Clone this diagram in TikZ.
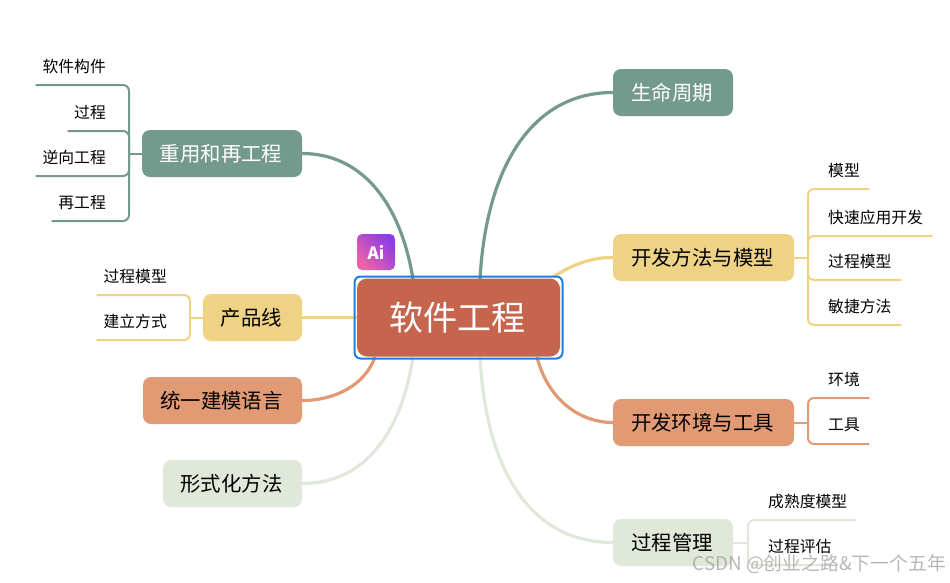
\documentclass[tikz,border=0pt]{standalone}
\usepackage{fontspec}
\setmainfont{Noto Sans CJK SC}
\usetikzlibrary{backgrounds}
\definecolor{cgreen}{HTML}{739A8C}
\definecolor{cyellow}{HTML}{EFD385}
\definecolor{corange}{HTML}{E29A75}
\definecolor{clight}{HTML}{E0E8DA}
\definecolor{ccenter}{HTML}{C6654E}
\definecolor{cblue}{HTML}{1A7FE5}
\definecolor{aione}{HTML}{EC62A6}
\definecolor{aitwo}{HTML}{8B3BEA}
\newcommand{\leafL}[2]{\makebox[#1pt][r]{#2\kern23pt}}
\newcommand{\leafR}[2]{\makebox[#1pt][l]{\kern20pt #2}}
\tikzset{
  x=1pt,y=-1pt,
  topic/.style={rounded corners=8pt,inner sep=0pt,minimum height=47pt,font=\fontsize{20.4}{24}\selectfont,text=black,execute at end node=\kern2pt},
  gtopic/.style={topic,fill=cgreen,text=white},
  ytopic/.style={topic,fill=cyellow},
  otopic/.style={topic,fill=corange},
  ltopic/.style={topic,fill=clight},
  leaf/.style={inner sep=0pt,minimum height=37pt,font=\fontsize{15.8}{18}\selectfont,text=black},
  leafl/.style={leaf,anchor=south east},
  leafr/.style={leaf,anchor=south west},
  main/.style={line width=3.2pt},
  bracket/.style={line width=2pt,rounded corners=6pt},
}
\begin{document}
\begin{tikzpicture}
\useasboundingbox (0,0) rectangle (950,582);
% centre
\node[rounded corners=6pt,draw=cblue,line width=2pt,minimum width=208pt,minimum height=82pt,inner sep=0pt] (frame) at (458.5,317.5) {};
\node[fill=ccenter,rounded corners=10pt,text=white,minimum width=203pt,minimum height=78pt,inner sep=0pt,font=\fontsize{34}{38}\selectfont,execute at end node=\kern3pt] (c) at (458.5,317.5) {软件工程};
\node[rounded corners=5pt,left color=aione,right color=aitwo,shading angle=135,minimum width=38pt,minimum height=36pt,inner sep=0pt,text=white,font=\bfseries\fontsize{17}{18}\selectfont] (ai) at (376,252) {Ai};
% topics
\node[gtopic,minimum width=120pt] (life) at (673,92.5) {生命周期};
\node[ytopic,minimum width=181pt] (dev) at (703.5,257.5) {开发方法与模型};
\node[otopic,minimum width=181pt] (env) at (703.5,422.5) {开发环境与工具};
\node[ltopic,minimum width=120pt] (proc) at (673,542.5) {过程管理};
\node[gtopic,minimum width=160pt] (reuse) at (222,153.5) {重用和再工程};
\node[ytopic,minimum width=99pt] (pl) at (252.5,317.5) {产品线};
\node[otopic,minimum width=159pt] (uml) at (222.5,400.5) {统一建模语言};
\node[ltopic,minimum width=139pt] (fm) at (232.5,483.5) {形式化方法};
% leaves
\node[leafl] (a1) at (129,85) {\leafL{93}{软件构件}};
\node[leafl] (a2) at (129,131) {\leafL{61}{过程}};
\node[leafl] (a3) at (129,176) {\leafL{93}{逆向工程}};
\node[leafl] (a4) at (129,221) {\leafL{77}{再工程}};
\node[leafl] (b1) at (190,295) {\leafL{93}{过程模型}};
\node[leafl] (b2) at (190,340) {\leafL{93}{建立方式}};
\node[leafr] (d1) at (808,189) {\leafR{61}{模型}};
\node[leafr] (d2) at (808,236) {\leafR{124}{快速应用开发}};
\node[leafr] (d3) at (808,280) {\leafR{93}{过程模型}};
\node[leafr] (d4) at (808,325) {\leafR{93}{敏捷方法}};
\node[leafr] (e1) at (808,398) {\leafR{61}{环境}};
\node[leafr] (e2) at (808,444) {\leafR{61}{工具}};
\node[leafr] (f1) at (748,520) {\leafR{108}{成熟度模型}};
\node[leafr] (f2) at (748,565) {\leafR{82}{过程评估}};
% connector ends
\coordinate (cTL) at (413,279);
\coordinate (cTR) at (480,279);
\coordinate (cTE) at (553,277);
\coordinate (cBE) at (537,357);
\coordinate (cBR) at (480,357);
\coordinate (cBL) at (413,357);
\coordinate (cBW) at (375,357);
\coordinate (sa) at (129,153.5);
\coordinate (sb) at (190,317.5);
\coordinate (sd) at (808,257.5);
\coordinate (se) at (808,422.5);
\coordinate (sf) at (748,542.5);
\begin{scope}[on background layer]
\draw[main,cgreen] (cTR) .. controls (486,170) and (530,92.5) .. (life.west);
\draw[main,cgreen] (cTL) .. controls (400,200) and (360,153.5) .. (reuse.east);
\draw[main,cyellow] (cTE) .. controls (572,265) and (590,257.5) .. (dev.west);
\draw[main,corange] (cBE) .. controls (548,400) and (580,422.5) .. (env.west);
\draw[main,clight] (cBR) .. controls (486,470) and (530,542.5) .. (proc.west);
\draw[main,clight] (cBL) .. controls (400,440) and (360,483.5) .. (fm.east);
\draw[main,corange] (cBW) .. controls (365,385) and (335,400.5) .. (uml.east);
\draw[main,cyellow] (c.west) -- (pl.east);
\end{scope}
% brackets
\begin{scope}[cgreen]
\draw[bracket] (reuse.west) -- (sa);
\foreach \n in {a1,a2,a3,a4} \draw[bracket] (\n.south west) -- (\n.south east) -- (sa);
\end{scope}
\begin{scope}[cyellow]
\draw[bracket] (pl.west) -- (sb);
\foreach \n in {b1,b2} \draw[bracket] (\n.south west) -- (\n.south east) -- (sb);
\draw[bracket] (dev.east) -- (sd);
\foreach \n in {d1,d2,d3,d4} \draw[bracket] (\n.south east) -- (\n.south west) -- (sd);
\end{scope}
\begin{scope}[corange]
\draw[bracket] (env.east) -- (se);
\foreach \n in {e1,e2} \draw[bracket] (\n.south east) -- (\n.south west) -- (se);
\end{scope}
\begin{scope}[clight]
\draw[bracket] (proc.east) -- (sf);
\foreach \n in {f1,f2} \draw[bracket] (\n.south east) -- (\n.south west) -- (sf);
\end{scope}
% watermark
\node[anchor=east,inner sep=0pt,text=black!40,opacity=.7,font=\fontsize{18.8}{20}\selectfont] (wm) at (946,564) {CSDN @创业之路\&下一个五年};
\end{tikzpicture}
\end{document}
